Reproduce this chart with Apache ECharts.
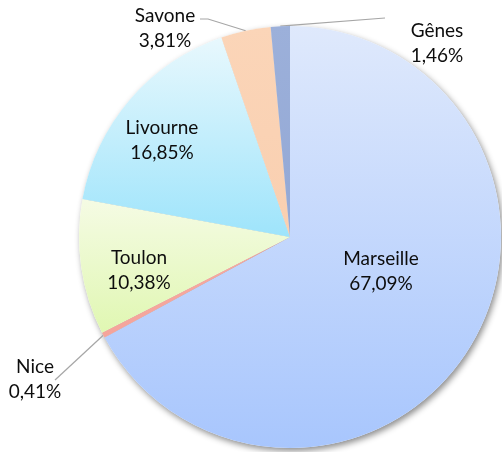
<!DOCTYPE html>
<html>
<head>
<meta charset="utf-8">
<script src="https://cdn.jsdelivr.net/npm/echarts@6/dist/echarts.min.js"></script>
<style>
  html, body { margin: 0; padding: 0; background: #ffffff; }
  #chart { width: 502px; height: 452px; }
</style>
</head>
<body>
<div id="chart"></div>
<script>
// ---- data ----
const categories = ['Marseille', 'Nice', 'Toulon', 'Livourne', 'Savone', 'Gênes'];
const shares = [67.09, 0.41, 10.38, 16.85, 3.81, 1.46];
const percentLabels = ['67,09%', '0,41%', '10,38%', '16,85%', '3,81%', '1,46%'];

// ---- styling ----
const gradientStops = [
  ['#dfe9fc', '#a8c6fd'],
  ['#f7a9a1', '#f4a49b'],
  ['#f5fbe4', '#e0f7b2'],
  ['#e8f8fd', '#9ee4fb'],
  ['#fbd5b8', '#f9cfb0'],
  ['#9cb0da', '#93a8d5']
];
const labelPlacement = ['inside', 'outside', 'inside', 'inside', 'outside', 'outside'];
// label centre positions (px) and label-line end points (px)
const labelCenters = [[381, 271], [35, 379], [139, 270], [162, 140], [165, 28], [437, 43]];
const lineEnds = [null, [[55, 380]], null, null, [[208, 19], [200, 19]], [[385, 18]]];

const FONT = 'Lato, "Open Sans", sans-serif';

const chart = echarts.init(document.getElementById('chart'), null, { renderer: 'canvas' });

const data = categories.map((name, i) => ({
  name: name,
  value: shares[i],
  itemStyle: {
    color: new echarts.graphic.LinearGradient(0, 0, 0, 1, [
      { offset: 0, color: gradientStops[i][0] },
      { offset: 1, color: gradientStops[i][1] }
    ])
  },
  label: { position: labelPlacement[i] },
  labelLine: { show: labelPlacement[i] === 'outside' }
}));

chart.setOption({
  animation: false,
  backgroundColor: '#ffffff',
  series: [
    {
      // shadow disc behind the pie
      type: 'pie',
      silent: true,
      z: 1,
      center: [290, 237],
      radius: 211,
      startAngle: 90,
      data: categories.map((name, i) => ({ name: name, value: shares[i] })),
      label: { show: false },
      labelLine: { show: false },
      itemStyle: {
        color: '#ffffff',
        borderWidth: 0,
        shadowBlur: 6,
        shadowOffsetX: 2,
        shadowOffsetY: 3,
        shadowColor: 'rgba(0,0,0,0.45)'
      },
      emphasis: { disabled: true }
    },
    {
      type: 'pie',
      z: 2,
      center: [290, 237],
      radius: 211,
      startAngle: 90,
      clockwise: true,
      avoidLabelOverlap: false,
      data: data,
      itemStyle: { borderWidth: 0 },
      label: {
        show: true,
        fontFamily: FONT,
        fontSize: 19,
        lineHeight: 25,
        color: '#0d0d0d',
        align: 'center',
        formatter: (p) => p.name + '\n' + percentLabels[p.dataIndex]
      },
      labelLine: {
        length: 20,
        length2: 10,
        smooth: false,
        lineStyle: { color: '#a6a6a6', width: 1.2 }
      },
      labelLayout: function (params) {
        const i = params.dataIndex;
        const c = labelCenters[i];
        const res = { x: c[0], y: c[1], align: 'center', verticalAlign: 'middle' };
        if (lineEnds[i] && params.labelLinePoints) {
          res.labelLinePoints = [params.labelLinePoints[0]].concat(lineEnds[i]);
        }
        return res;
      },
      emphasis: { disabled: true }
    }
  ]
});
</script>
</body>
</html>
